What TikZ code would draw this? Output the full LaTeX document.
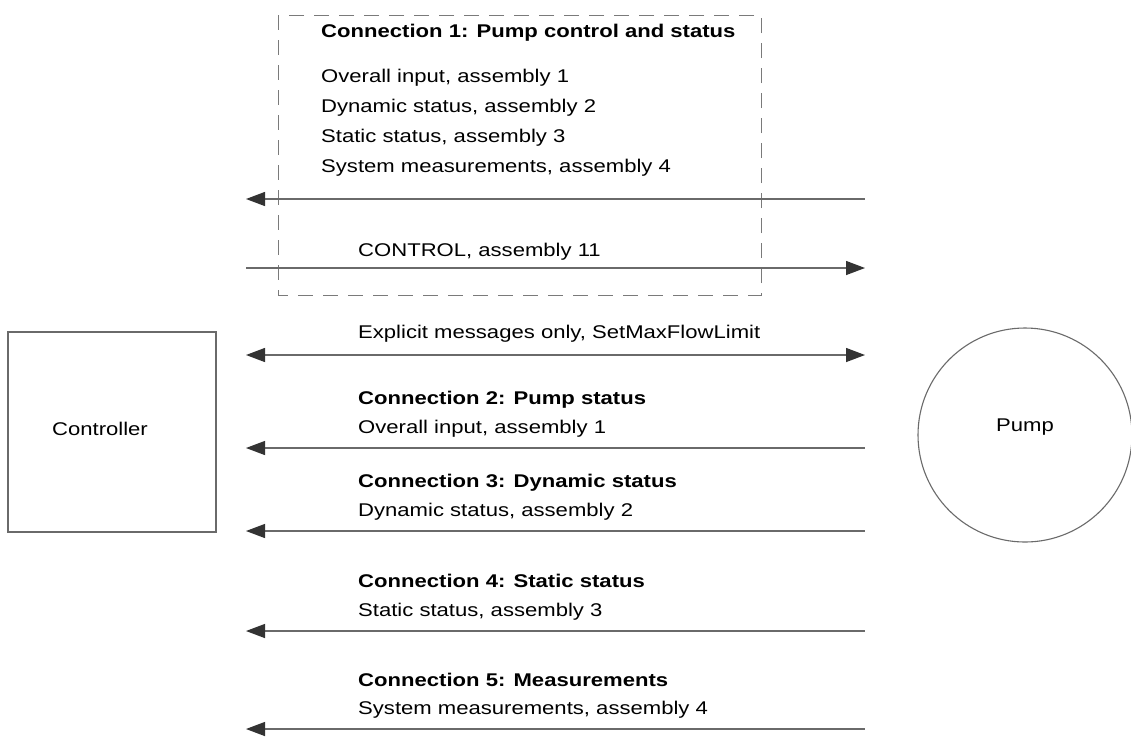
\documentclass[tikz,border=0pt]{standalone}
\usepackage{fontspec}
\setmainfont{Liberation Sans}[FakeStretch=1.2]
\usetikzlibrary{arrows.meta}
\definecolor{linegray}{HTML}{6A6A6A}
\definecolor{tipgray}{HTML}{333333}
\definecolor{dashgray}{HTML}{7A7A7A}
\tikzset{
  txt/.style={anchor=base west, inner sep=0pt, font=\fontsize{18.4}{22}\selectfont},
  btxt/.style={txt, font=\fontsize{18.4}{22}\selectfont\bfseries},
  conn/.style={draw=linegray, line width=1.3pt},
  tipr/.style={-{Triangle[length=19pt,width=14pt,color=tipgray]}},
  tipl/.style={{Triangle[length=19pt,width=14pt,color=tipgray]}-},
  tipb/.style={{Triangle[length=19pt,width=14pt,color=tipgray]}-{Triangle[length=19pt,width=14pt,color=tipgray]}},
  dashbox/.style={draw=dashgray, line width=1pt, dash pattern=on 15pt off 10pt},
  plain/.style={draw=linegray, line width=1.1pt, font=\fontsize{18.4}{22}\selectfont}
}
\begin{document}
\begin{tikzpicture}[x=1pt,y=-1pt]
\useasboundingbox (0,0) rectangle (1131,740);
\fill[white] (0,0) rectangle (1131,740);

% dashed box
\draw[dashbox] (278,15) rectangle (761,295);
\node[btxt] (t1) at (321,37) {Connection 1: Pump control and status};
\node[txt] (t1a) at (321,82) {Overall input, assembly 1};
\node[txt] (t1b) at (321,112) {Dynamic status, assembly 2};
\node[txt] (t1c) at (321,142) {Static status, assembly 3};
\node[txt] (t1d) at (321,172) {System measurements, assembly 4};

% controller and pump
\node[plain, draw, minimum width=208pt, minimum height=200pt, inner sep=0pt] (controller) at (112,432) {};
\node[font=\fontsize{18.4}{22}\selectfont] (ctext) at (100,429) {Controller};
\node[plain, draw, circle, minimum size=214pt, inner sep=0pt] (pump) at (1025,435) {};
\node[font=\fontsize{18.4}{22}\selectfont] (ptext) at (1025,427) {Pump};

% coordinates
\foreach \n/\y in {a/199,b/268,c/355,d/448,e/531,f/631,g/729}{
  \coordinate (L\n) at (246,\y);
  \coordinate (R\n) at (865,\y);
}

\draw[conn, tipl] (La) -- (Ra);
\node[txt] (tc) at (358,256) {CONTROL, assembly 11};
\draw[conn, tipr] (Lb) -- (Rb);

\node[txt] (te) at (358,338) {Explicit messages only, SetMaxFlowLimit};
\draw[conn, tipb] (Lc) -- (Rc);

\node[btxt] (c2) at (358,404) {Connection 2: Pump status};
\node[txt] (c2a) at (358,433) {Overall input, assembly 1};
\draw[conn, tipl] (Ld) -- (Rd);

\node[btxt] (c3) at (358,487) {Connection 3: Dynamic status};
\node[txt] (c3a) at (358,516) {Dynamic status, assembly 2};
\draw[conn, tipl] (Le) -- (Re);

\node[btxt] (c4) at (358,587) {Connection 4: Static status};
\node[txt] (c4a) at (358,616) {Static status, assembly 3};
\draw[conn, tipl] (Lf) -- (Rf);

\node[btxt] (c5) at (358,686) {Connection 5: Measurements};
\node[txt] (c5a) at (358,714) {System measurements, assembly 4};
\draw[conn, tipl] (Lg) -- (Rg);
\end{tikzpicture}
\end{document}
